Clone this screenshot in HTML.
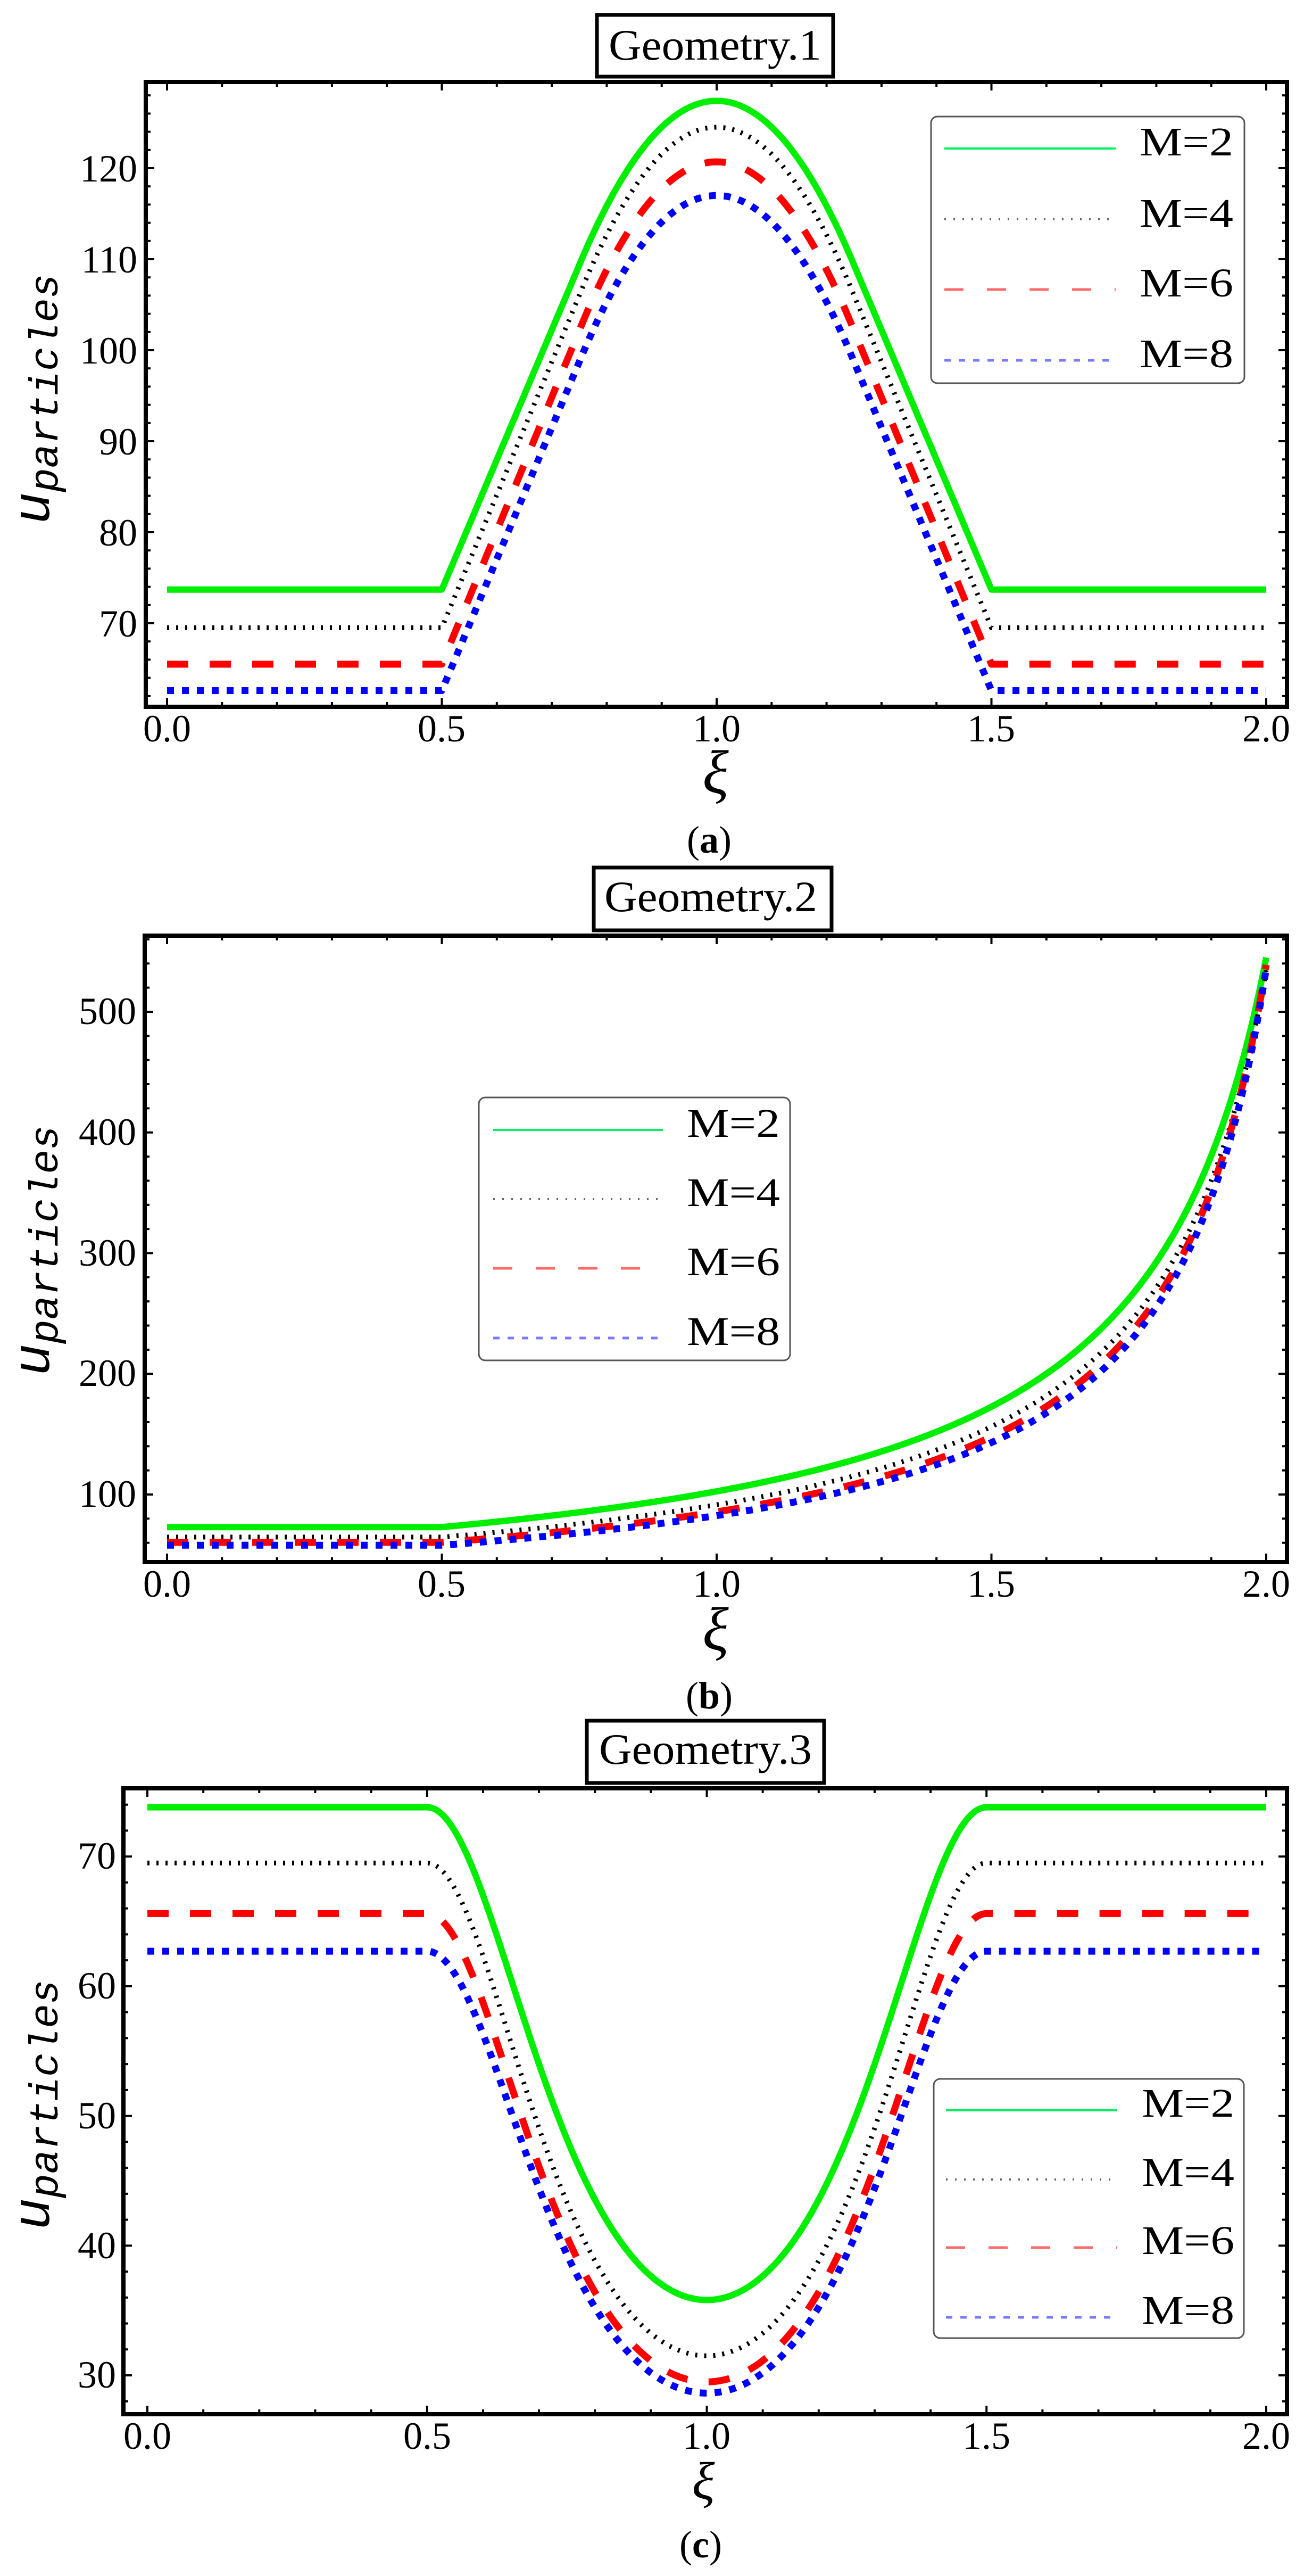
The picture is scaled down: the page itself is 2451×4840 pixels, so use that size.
<!DOCTYPE html>
<html><head><meta charset="utf-8"><style>
html,body{margin:0;padding:0;background:#fff;}
svg{display:block;}
.t{font-family:"Liberation Serif",serif;fill:#000;}
</style></head><body>
<svg id="s" width="2451" height="4840" viewBox="0 0 2451 4840" xmlns="http://www.w3.org/2000/svg">
<rect width="2451" height="4840" fill="#fff"/>
<g id="curves"></g>
<g id="ticks"></g>

<!-- Panel 1 -->
<rect x="1122" y="28" width="444" height="116" fill="#fff" stroke="#000" stroke-width="7"/>
<text class="t" x="1344" y="112" font-size="82" text-anchor="middle" textLength="400" lengthAdjust="spacingAndGlyphs">Geometry.1</text>
<g class="t" font-size="72" text-anchor="end">
<text x="258" y="341">120</text><text x="258" y="512">110</text><text x="258" y="683">100</text>
<text x="258" y="854">90</text><text x="258" y="1025">80</text><text x="258" y="1196">70</text>
</g>
<g class="t" font-size="72" text-anchor="middle">
<text x="314" y="1393">0.0</text><text x="830" y="1393">0.5</text><text x="1347" y="1393">1.0</text><text x="1863" y="1393">1.5</text><text x="2380" y="1393">2.0</text>
</g>
<text class="t" x="1345" y="1490" font-size="115" font-style="italic" text-anchor="middle">ξ</text>
<text class="t" x="1333" y="1602" font-size="72" text-anchor="middle">(<tspan font-weight="bold">a</tspan>)</text>
<text transform="translate(92,985) rotate(-90)" font-family="Liberation Mono,monospace" font-style="italic" fill="#000"><tspan font-size="100">u</tspan><tspan font-size="76" dy="16">particles</tspan></text>

<!-- Panel 2 -->
<rect x="1116" y="1630" width="447" height="118" fill="#fff" stroke="#000" stroke-width="7"/>
<text class="t" x="1336" y="1712" font-size="82" text-anchor="middle" textLength="400" lengthAdjust="spacingAndGlyphs">Geometry.2</text>
<g class="t" font-size="72" text-anchor="end">
<text x="256" y="1924">500</text><text x="256" y="2151">400</text><text x="256" y="2378">300</text>
<text x="256" y="2604">200</text><text x="256" y="2831">100</text>
</g>
<g class="t" font-size="72" text-anchor="middle">
<text x="314" y="3000">0.0</text><text x="830" y="3000">0.5</text><text x="1347" y="3000">1.0</text><text x="1863" y="3000">1.5</text><text x="2380" y="3000">2.0</text>
</g>
<text class="t" x="1345" y="3100" font-size="115" font-style="italic" text-anchor="middle">ξ</text>
<text class="t" x="1333" y="3210" font-size="72" text-anchor="middle">(<tspan font-weight="bold">b</tspan>)</text>
<text transform="translate(92,2585) rotate(-90)" font-family="Liberation Mono,monospace" font-style="italic" fill="#000"><tspan font-size="100">u</tspan><tspan font-size="76" dy="16">particles</tspan></text>

<!-- Panel 3 -->
<rect x="1103" y="3233" width="446" height="117" fill="#fff" stroke="#000" stroke-width="7"/>
<text class="t" x="1326" y="3314" font-size="82" text-anchor="middle" textLength="400" lengthAdjust="spacingAndGlyphs">Geometry.3</text>
<g class="t" font-size="72" text-anchor="end">
<text x="218" y="3511">70</text><text x="218" y="3755">60</text><text x="218" y="3999">50</text>
<text x="218" y="4243">40</text><text x="218" y="4486">30</text>
</g>
<g class="t" font-size="72" text-anchor="middle">
<text x="277" y="4601">0.0</text><text x="803" y="4601">0.5</text><text x="1328" y="4601">1.0</text><text x="1854" y="4601">1.5</text><text x="2380" y="4601">2.0</text>
</g>
<text class="t" x="1322" y="4695" font-size="100" font-style="italic" text-anchor="middle">ξ</text>
<text class="t" x="1317" y="4805" font-size="72" text-anchor="middle">(<tspan font-weight="bold">c</tspan>)</text>
<text transform="translate(92,4190) rotate(-90)" font-family="Liberation Mono,monospace" font-style="italic" fill="#000"><tspan font-size="100">u</tspan><tspan font-size="76" dy="16">particles</tspan></text>

<!-- Legends -->
<g id="legends"></g>
<g class="t" font-size="76">
<text x="2142" y="292" textLength="176" lengthAdjust="spacingAndGlyphs">M=2</text>
<text x="2142" y="426" textLength="176" lengthAdjust="spacingAndGlyphs">M=4</text>
<text x="2142" y="557" textLength="176" lengthAdjust="spacingAndGlyphs">M=6</text>
<text x="2142" y="690" textLength="176" lengthAdjust="spacingAndGlyphs">M=8</text>
<text x="1291" y="2136" textLength="175" lengthAdjust="spacingAndGlyphs">M=2</text>
<text x="1291" y="2266" textLength="175" lengthAdjust="spacingAndGlyphs">M=4</text>
<text x="1291" y="2396" textLength="175" lengthAdjust="spacingAndGlyphs">M=6</text>
<text x="1291" y="2527" textLength="175" lengthAdjust="spacingAndGlyphs">M=8</text>
<text x="2146" y="3977" textLength="174" lengthAdjust="spacingAndGlyphs">M=2</text>
<text x="2146" y="4107" textLength="174" lengthAdjust="spacingAndGlyphs">M=4</text>
<text x="2146" y="4235" textLength="174" lengthAdjust="spacingAndGlyphs">M=6</text>
<text x="2146" y="4366" textLength="174" lengthAdjust="spacingAndGlyphs">M=8</text>
</g>
</svg>
<script>
(function(){
var NS="http://www.w3.org/2000/svg";
function el(parent,tag,attrs){var e=document.createElementNS(NS,tag);for(var k in attrs)e.setAttribute(k,attrs[k]);parent.appendChild(e);return e;}
var C=document.getElementById('curves'),T=document.getElementById('ticks'),L=document.getElementById('legends');
var styles=[
 {c:'#00ee00',w:12,d:''},
 {c:'#000',w:9,d:'4 13'},
 {c:'#ff0000',w:13,d:'40 40'},
 {c:'#0000ff',w:13,d:'13 15'}
];
function draw(X,Y,f,params,clip){
 params.forEach(function(p,i){
  var pts=[];
  for(var k=0;k<=800;k++){var x=2*k/800;pts.push(X(x).toFixed(1)+','+Y(f(x,p)).toFixed(1));}
  var s=styles[i];
  el(C,'polyline',{points:pts.join(' '),fill:'none',stroke:s.c,'stroke-width':s.w,'stroke-dasharray':s.d,'stroke-linejoin':'round','clip-path':'url(#'+clip+')'});
 });
}
function frame(x1,y1,x2,y2,X,Y,xt,ymaj,ymin,ylo,yhi,id){
 var defs=el(C,'clipPath',{id:id});el(defs,'rect',{x:x1,y:y1,width:x2-x1,height:y2-y1});
 el(T,'rect',{x:x1,y:y1,width:x2-x1,height:y2-y1,fill:'none',stroke:'#000','stroke-width':8});
 for(var i=0;i<=20;i++){var x=X(i/10),L1=(i%5==0)?16:9;
  el(T,'line',{x1:x,x2:x,y1:y2,y2:y2-L1,stroke:'#000','stroke-width':4});
  el(T,'line',{x1:x,x2:x,y1:y1,y2:y1+L1,stroke:'#000','stroke-width':4});}
 for(var v=Math.ceil(ylo/ymin)*ymin;v<=yhi;v+=ymin){var y=Y(v);if(y<y1+4||y>y2-4)continue;
  var L2=(Math.abs(v/ymaj-Math.round(v/ymaj))<1e-6)?16:9;
  el(T,'line',{x1:x1,x2:x1+L2,y1:y,y2:y,stroke:'#000','stroke-width':4});
  el(T,'line',{x1:x2,x2:x2-L2,y1:y,y2:y,stroke:'#000','stroke-width':4});}
}
// Panel 1
var X1=function(x){return 314+1033*x;},Y1=function(v){return 1171-(v-70)*17.1;};
frame(274,154,2419,1328,X1,Y1,0,10,2,58,132,'c1');
var x0=0.753;
function f1(x,p){var s=Math.abs(x-1);if(s>=0.5)return p[0];var t=0.5-s;var m=2*(p[1]-p[0])/x0;var t0=x0-0.5;
 if(t<=t0)return p[0]+m*t;var d=t-t0;return p[0]+m*t0+m*(d-d*d/(2*(1-x0)));}
draw(X1,Y1,f1,[[73.7,127.4],[69.5,124.5],[65.5,120.7],[62.6,117]],'c1');
// Panel 2
var Y2=function(v){return 2808-(v-100)*2.2675;};
frame(272,1758,2419,2935,X1,Y2,0,100,20,40,570,'c2');
function f2(x,p){if(x<=0.5)return p[0];return p[0]*(p[1]-0.5)/(p[1]-x);}
draw(X1,Y2,f2,[[73,2.232],[64.7,2.2066],[60.3,2.189],[58,2.182]],'c2');
// Panel 3
var X3=function(x){return 277+1051.5*x;},Y3=function(v){return 4463-(v-30)*24.37;};
frame(232,3360,2419,4536,X3,Y3,0,10,2,25,77,'c3');
function f3(x,p){if(x<=0.5||x>=1.5)return p[0];var s=(1-Math.cos(2*Math.PI*(x-0.5)))/2;return p[0]/(1+p[1]*s);}
draw(X3,Y3,f3,[[73.8,1.061],[69.5,1.206],[65.6,1.224],[62.7,1.19]],'c3');
// Legends
var ls=[{c:'#00f060',w:4,d:''},{c:'#666',w:4,d:'3 14'},{c:'#ff6a6a',w:5,d:'36 44'},{c:'#7a7aff',w:5,d:'12 15'}];
function legend(x,y,w,h,lx1,lx2,ys){
 el(L,'rect',{x:x,y:y,width:w,height:h,rx:12,fill:'#fff',stroke:'#555','stroke-width':3});
 ys.forEach(function(yy,i){var s=ls[i];el(L,'line',{x1:lx1,x2:lx2,y1:yy,y2:yy,stroke:s.c,'stroke-width':s.w,'stroke-dasharray':s.d});});
}
legend(1750,219,589,501,1775,2097,[279,412,544,677]);
legend(900,2062,585,494,927,1246,[2123,2253,2383,2514]);
legend(1755,3906,583,487,1778,2100,[3965,4095,4223,4354]);
})();
</script>
</body></html>
